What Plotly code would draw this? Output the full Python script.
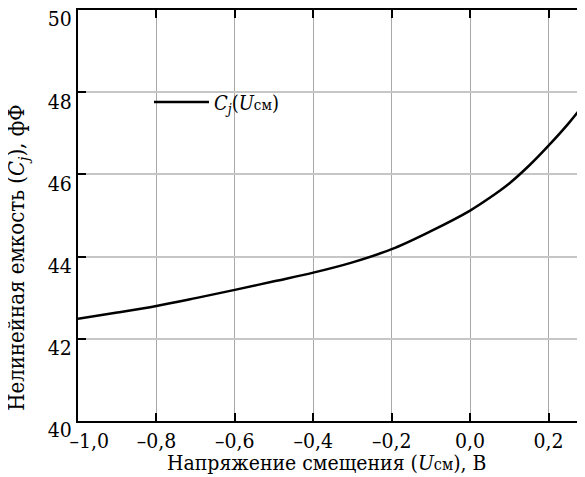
import plotly.graph_objects as go

# Data
u_bias = [-1.0, -0.9, -0.8, -0.7, -0.6, -0.5, -0.4, -0.3, -0.2, -0.1, 0.0, 0.05, 0.1, 0.15, 0.2, 0.25, 0.293]
cj_ff = [42.49, 42.64, 42.80, 42.99, 43.19, 43.40, 43.61, 43.86, 44.18, 44.62, 45.12, 45.43, 45.78, 46.21, 46.70, 47.23, 47.74]

x_tickvals = [-1.0, -0.8, -0.6, -0.4, -0.2, 0.0, 0.2]
x_ticktext = ["\u2003\u2009\u20131,0", "\u20130,8", "\u20130,6", "\u20130,4", "\u20130,2", "0,0", "0,2"]
y_tickvals = [40, 42, 44, 46, 48, 50]
y_ticktext = ["40", "42", "44", "46", "48", "50"]

FONT = "DejaVu Serif Condensed, DejaVu Serif"

fig = go.Figure()
fig.add_trace(go.Scatter(
    x=u_bias, y=cj_ff, mode="lines", line=dict(color="black", width=2.5, shape="spline"),
    name="<i>C<sub>j</sub></i>(<i>U</i><span style='font-size:15px'>см</span>)",
))

axis_common = dict(
    showline=True, linecolor="black", linewidth=2, mirror="ticks",
    ticks="inside", ticklen=8, tickwidth=2, tickcolor="black",
    zeroline=False, showgrid=True,
    tickfont=dict(family=FONT, size=21, color="black"),
    automargin=False, ticklabeloverflow="allow",
)

fig.update_xaxes(range=[-1.0, 0.293], tickvals=x_tickvals, ticktext=x_ticktext,
                 gridcolor="#a8a8a8", gridwidth=1, **axis_common)
fig.update_yaxes(range=[40, 50], tickvals=y_tickvals, ticktext=y_ticktext, ticklabelshift=9,
                 gridcolor="#c6c6c6", gridwidth=1.5, **axis_common)

fig.add_annotation(text="Напряжение смещения (<i>U</i><span style='font-size:16px'>см</span>), В",
                   xref="paper", yref="paper", x=0.49, y=0, yanchor="middle", yshift=-42, showarrow=False,
                   font=dict(family=FONT, size=21, color="black"))
fig.add_annotation(text="Нелинейная емкость (<i>C<sub>j</sub></i>), фФ",
                   xref="paper", yref="paper", x=0, y=0.397, xanchor="center", yanchor="middle",
                   xshift=-59, textangle=-90, showarrow=False,
                   font=dict(family=FONT, size=22, color="black"))

# page body has an 8px default margin, so the figure is 8px smaller on each axis
fig.update_layout(
    width=577, height=469,
    margin=dict(l=70, r=0, t=2, b=56),
    paper_bgcolor="white", plot_bgcolor="white",
    font=dict(family=FONT, size=21, color="black"),
    showlegend=True,
    legend=dict(x=0.14, y=0.776, xanchor="left", yanchor="middle", bgcolor="rgba(0,0,0,0)",
                font=dict(family=FONT, size=20, color="black"), itemwidth=55),
)

fig.write_html("out.html")
